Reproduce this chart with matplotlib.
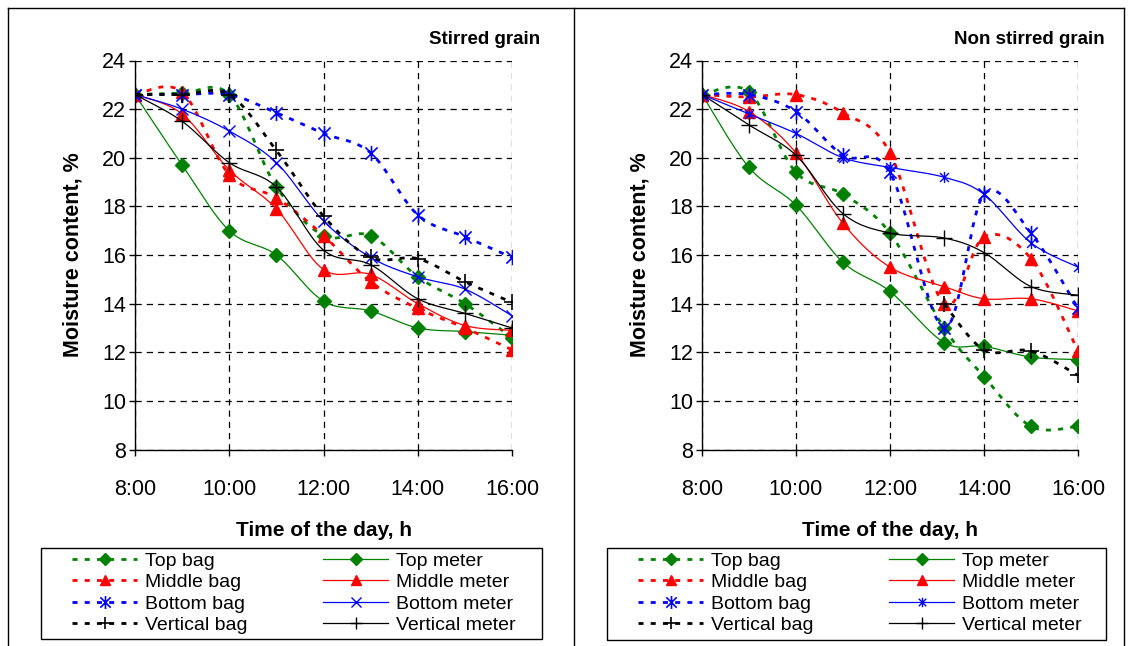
import numpy as np
import matplotlib
matplotlib.use('Agg')
import matplotlib.pyplot as plt
from matplotlib.lines import Line2D
from matplotlib.patches import Rectangle
from matplotlib.path import Path

plt.rcParams['font.family'] = ['Liberation Sans', 'DejaVu Sans']

########################################################################
# data
hours_stirred = [8, 9, 10, 11, 12, 13, 14, 15, 16]
hours_non = [8, 9, 10, 11, 12, 13.15, 14, 15, 16]
x_ticks = [8, 10, 12, 14, 16]
x_tick_labels = ['8:00', '10:00', '12:00', '14:00', '16:00']
y_ticks = [8, 10, 12, 14, 16, 18, 20, 22, 24]

# stirred grain
top_bag_s = [22.6, 22.65, 22.6, 18.8, 16.8, 16.8, 15.1, 14.0, 12.6]
top_meter_s = [22.6, 19.7, 17.0, 16.0, 14.1, 13.7, 13.0, 12.85, 12.7]
mid_bag_s = [22.6, 22.7, 19.3, 18.35, 16.8, 14.9, 13.8, 13.0, 12.1]
mid_meter_s = [22.6, 21.8, 19.5, 17.9, 15.4, 15.2, 14.0, 13.1, 12.9]
bot_bag_s = [22.6, 22.6, 22.6, 21.85, 21.0, 20.2, 17.65, 16.75, 15.9]
bot_meter_s = [22.6, 22.0, 21.1, 19.8, 17.4, 15.9, 15.1, 14.6, 13.5]
vert_bag_s = [22.6, 22.6, 22.6, 20.3, 17.6, 15.9, 15.85, 14.9, 14.05]
vert_meter_s = [22.6, 21.5, 19.8, 18.8, 16.2, 15.6, 14.2, 13.6, 13.0]

# non stirred grain (vertical bag only read from 13:10 on)
top_bag_n = [22.6, 22.7, 19.4, 18.5, 16.9, 13.0, 11.0, 8.95, 8.95]
top_meter_n = [22.6, 19.6, 18.05, 15.7, 14.5, 12.4, 12.25, 11.8, 11.7]
mid_bag_n = [22.6, 22.5, 22.6, 21.85, 20.2, 14.0, 16.75, 15.85, 12.05]
mid_meter_n = [22.6, 21.9, 20.2, 17.3, 15.5, 14.7, 14.2, 14.2, 13.7]
bot_bag_n = [22.6, 22.6, 21.9, 20.1, 19.4, 13.0, 18.5, 16.9, 13.8]
bot_meter_n = [22.6, 21.8, 21.0, 20.0, 19.6, 19.2, 18.5, 16.5, 15.5]
vert_bag_n = [np.nan, np.nan, np.nan, np.nan, np.nan, 14.0, 12.1, 12.05, 11.05]
vert_meter_n = [22.6, 21.35, 20.1, 17.7, 16.9, 16.7, 16.1, 14.7, 14.35]

########################################################################
GREEN, RED, BLUE, BLACK = '#008000', '#FF0000', '#0000FF', '#000000'

# excel style asterisk: X plus a vertical bar
star = Path([(-1, -1), (1, 1), (-1, 1), (1, -1), (0, -1.25), (0, 1.25)],
            [Path.MOVETO, Path.LINETO, Path.MOVETO, Path.LINETO, Path.MOVETO, Path.LINETO])

BAG = dict(ls=(0, (1.8, 2.6)), lw=2.0, dash_capstyle='butt')
METER = dict(ls='-', lw=0.9)


def smooth(x, y, n=30):
    # catmull-rom through the points, like excel's smoothed line
    x = np.asarray(x, float)
    y = np.asarray(y, float)
    ok = ~np.isnan(y)
    x, y = x[ok], y[ok]
    px = np.r_[x[0], x, x[-1]]
    py = np.r_[y[0], y, y[-1]]
    t = np.linspace(0, 1, n)[:, None]
    out = []
    for i in range(len(x) - 1):
        p0 = np.array([px[i], py[i]])
        p1 = np.array([px[i + 1], py[i + 1]])
        p2 = np.array([px[i + 2], py[i + 2]])
        p3 = np.array([px[i + 3], py[i + 3]])
        c1 = p1 + (p2 - p0) / 6.0
        c2 = p2 - (p3 - p1) / 6.0
        b = ((1 - t) ** 3) * p1 + 3 * ((1 - t) ** 2) * t * c1 + 3 * (1 - t) * t ** 2 * c2 + t ** 3 * p2
        out.append(b if i == 0 else b[1:])
    b = np.vstack(out)
    return b[:, 0], b[:, 1]


def series_styles(bottom_meter_marker, bottom_meter_ms):
    return [
        ('Top bag', GREEN, BAG, 'D', 7, 1.0),
        ('Top meter', GREEN, METER, 'D', 7, 1.0),
        ('Middle bag', RED, BAG, '^', 9, 1.0),
        ('Middle meter', RED, METER, '^', 9, 1.0),
        ('Bottom bag', BLUE, BAG, star, 11, 1.2),
        ('Bottom meter', BLUE, METER, bottom_meter_marker, bottom_meter_ms, 1.0),
        ('Vertical bag', BLACK, BAG, '+', 11, 1.2),
        ('Vertical meter', BLACK, METER, '+', 11, 1.0),
    ]


def draw_panel(ax, hours, series, styles, title, title_x, leg_box, leg_anchor):
    for vals, (name, col, ls, mk, ms, mew) in zip(series, styles):
        sx, sy = smooth(hours, vals)
        ax.plot(sx, sy, color=col, **ls)
        ax.plot(hours, vals, ls='none', marker=mk, ms=ms, color=col,
                mfc=col, mec=col, mew=mew)

    ax.set_xlim(8, 16)
    ax.set_ylim(8, 24)
    ax.set_xticks(x_ticks)
    ax.set_xticklabels(x_tick_labels)
    ax.set_yticks(y_ticks)
    ax.grid(True, color='black', ls=(0, (5, 4)), lw=0.9)
    ax.spines['top'].set_visible(False)
    ax.spines['right'].set_visible(False)
    for s in ('left', 'bottom'):
        ax.spines[s].set_color('black')
        ax.spines[s].set_linewidth(1.0)
    ax.tick_params(axis='both', direction='out', length=4.5, width=1, labelsize=15.5, color='black')
    ax.tick_params(axis='y', pad=2)
    ax.tick_params(axis='x', pad=17)

    ax.set_xlabel('Time of the day, h', fontsize=15, fontweight='bold')
    ax.xaxis.set_label_coords(0.5, -0.207)
    ax.xaxis.label.set_va('center')
    ax.set_ylabel('Moisture content, %', fontsize=15.5, fontweight='bold')
    ax.yaxis.set_label_coords(-0.165, 0.5)
    ax.yaxis.label.set_va('center')

    fig.text(title_x / W, 1 - 40 / H, title, ha='right', va='center', fontsize=13.5, fontweight='bold')

    # legend: bags in the first column, meters in the second
    handles = []
    labels = []
    order = [0, 2, 4, 6, 1, 3, 5, 7]
    for k in order:
        name, col, ls, mk, ms, mew = styles[k]
        handles.append(Line2D([], [], color=col, marker=mk, ms=ms * 0.85, mfc=col, mec=col, mew=mew, **ls))
        labels.append(name)
    x0, y0, x1, y1 = leg_box
    fig.add_artist(Rectangle((x0 / W, 1 - y1 / H), (x1 - x0) / W, (y1 - y0) / H,
                             transform=fig.transFigure, fill=False, ec='black', lw=1.0))
    ax.legend(handles, labels, ncol=2, loc='upper left', frameon=False,
              bbox_to_anchor=(leg_anchor[0] / W, 1 - leg_anchor[1] / H),
              bbox_transform=fig.transFigure, borderpad=0, borderaxespad=0,
              fontsize=14, handlelength=3.35, handletextpad=0.4,
              labelspacing=0.2, columnspacing=3.9, numpoints=1)


W, H = 1130, 646
fig = plt.figure(figsize=(W / 100, H / 100), dpi=100)

axL = fig.add_axes([135 / W, 1 - 449.5 / H, 377 / W, 389 / H])
axR = fig.add_axes([702 / W, 1 - 449.5 / H, 376 / W, 389 / H])

draw_panel(axL, hours_stirred,
           [top_bag_s, top_meter_s, mid_bag_s, mid_meter_s, bot_bag_s, bot_meter_s, vert_bag_s, vert_meter_s],
           series_styles('x', 8), 'Stirred grain', 540, (41, 548, 542, 639), (72, 552))
draw_panel(axR, hours_non,
           [top_bag_n, top_meter_n, mid_bag_n, mid_meter_n, bot_bag_n, bot_meter_n, vert_bag_n, vert_meter_n],
           series_styles(star, 8), 'Non stirred grain', 1105, (607, 548, 1106, 640), (638, 552))

# panel frame lines
for xa, ya, xb, yb in [(8, 8, 1124, 8), (8, 8, 8, 646), (574, 8, 574, 646), (1124, 8, 1124, 646)]:
    fig.add_artist(Line2D([xa / W, xb / W], [1 - ya / H, 1 - yb / H], transform=fig.transFigure,
                          color='black', lw=1.0))

fig.savefig('out.png', dpi=100)
